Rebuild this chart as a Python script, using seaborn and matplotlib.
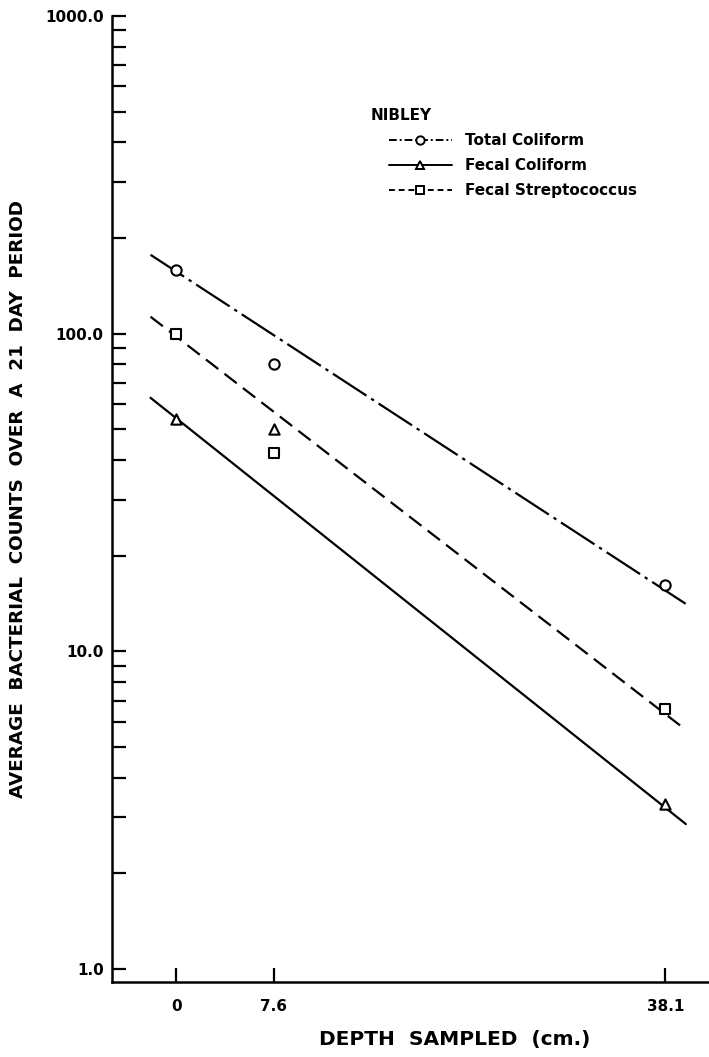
import numpy as np
import pandas as pd
import matplotlib
matplotlib.use("Agg")
import matplotlib.pyplot as plt
import seaborn as sns
from matplotlib.lines import Line2D
from matplotlib.legend_handler import HandlerLine2D

# ---- data ----
depth = [0.0, 7.6, 38.1]
series = ["Total Coliform", "Fecal Coliform", "Fecal Streptococcus"]
total_coliform = [158.0, 80.0, 16.2]
fecal_coliform = [54.0, 50.0, 3.3]
fecal_strep = [100.0, 42.0, 6.6]

# fitted lines (end points of the drawn regression lines)
fit_x = [-2.0, 39.7]
fit_total = [177.0, 14.1]
fit_fecal_col = [62.8, 2.86]
fit_fecal_strep = [113.0, 5.66]

xticks = [0, 7.6, 38.1]
xtick_labels = ["0", "7.6", "38.1"]
yticks = [1, 10, 100, 1000]
ytick_labels = ["1.0", "10.0", "100.0", "1000.0"]

sns.set_style("white")
plt.rcParams["font.family"] = ["DejaVu Sans"]
plt.rcParams["font.weight"] = "bold"
for k in ["text.color", "axes.labelcolor", "xtick.color", "ytick.color"]:
    plt.rcParams[k] = "black"

fig = plt.figure(figsize=(7.09, 10.57), dpi=100)
ax = fig.add_axes([0.158, 0.071, 0.842, 0.914])

pts = pd.DataFrame({
    "depth": depth * 3,
    "count": total_coliform + fecal_coliform + fecal_strep,
    "series": [series[0]] * 3 + [series[1]] * 3 + [series[2]] * 3,
})
fits = pd.DataFrame({
    "depth": fit_x * 3,
    "count": fit_total + fit_fecal_col + fit_fecal_strep,
    "series": [series[0]] * 2 + [series[1]] * 2 + [series[2]] * 2,
})

lw = 1.6
dashes = {series[0]: (18, 2.5, 1.5, 2.5), series[1]: "", series[2]: (7, 3.5)}
markers = {series[0]: "o", series[1]: "^", series[2]: "s"}
palette = {s: "black" for s in series}

sns.lineplot(data=fits, x="depth", y="count", hue="series", style="series",
             dashes=dashes, palette=palette, linewidth=lw, legend=False, ax=ax)
for s in series:
    sub = pts[pts["series"] == s]
    sns.scatterplot(data=sub, x="depth", y="count", marker=markers[s],
                    s=55, facecolor="white", edgecolor="black", linewidth=1.5,
                    legend=False, ax=ax, zorder=5)

ax.set_yscale("log")
ax.set_ylim(0.911, 1000)
ax.set_xlim(-5.0, 41.5)
ax.set_yticks(yticks)
ax.set_yticklabels(ytick_labels)
ax.set_xticks(xticks)
ax.set_xticklabels(xtick_labels)
ax.yaxis.set_minor_locator(matplotlib.ticker.LogLocator(base=10, subs=np.arange(2, 10)))
ax.yaxis.set_minor_formatter(matplotlib.ticker.NullFormatter())

ax.tick_params(axis="both", which="both", direction="in", length=10, width=1.6,
               color="black", labelsize=11, pad=6)
ax.tick_params(axis="y", which="both", left=True)
ax.tick_params(axis="x", which="major", bottom=True, pad=12)
for lab in ax.get_xticklabels() + ax.get_yticklabels():
    lab.set_fontweight("bold")

for side in ["top", "right"]:
    ax.spines[side].set_visible(False)
for side in ["left", "bottom"]:
    ax.spines[side].set_linewidth(1.8)
    ax.spines[side].set_color("black")

ax.set_xlabel("DEPTH  SAMPLED  (cm.)", fontsize=14.5, fontweight="bold")
ax.xaxis.set_label_coords((455 - 112) / 597, (982 - 1040) / 966)
ax.xaxis.label.set_va("center")
ax.set_ylabel("AVERAGE  BACTERIAL  COUNTS  OVER  A  21  DAY  PERIOD",
              fontsize=13.2, fontweight="bold")
ax.yaxis.set_label_coords(-0.157, 0.5)
ax.yaxis.label.set_va("center")


class RightMarkerHandler(HandlerLine2D):
    def get_xdata(self, legend, xdescent, ydescent, width, height, fontsize):
        xdata = np.array([-xdescent, -xdescent + width])
        xmarker = np.array([-xdescent + 0.79 * width])
        return xdata, xmarker


handles = [
    Line2D([], [], color="black", lw=1.4, dashes=(4, 1.5, 1, 1.5), marker="o",
           markersize=6, mfc="white", mec="black", mew=1.4),
    Line2D([], [], color="black", lw=1.4, marker="^",
           markersize=6, mfc="white", mec="black", mew=1.4),
    Line2D([], [], color="black", lw=1.4, dashes=(3, 2), marker="s",
           markersize=6, mfc="white", mec="black", mew=1.4),
]
leg = ax.legend(handles, series, loc="upper left",
                bbox_to_anchor=(389 / 709, 1 - 133 / 1057), bbox_transform=fig.transFigure,
                frameon=False, handlelength=4.1, handletextpad=0.9,
                labelspacing=0.65, numpoints=1, borderaxespad=0, borderpad=0,
                prop={"weight": "bold", "size": 11},
                handler_map={Line2D: RightMarkerHandler()})
fig.text(371 / 709, 1 - 116 / 1057, "NIBLEY", fontsize=11, fontweight="bold",
         ha="left", va="center")

fig.savefig("out.png", dpi=100, facecolor="white")
